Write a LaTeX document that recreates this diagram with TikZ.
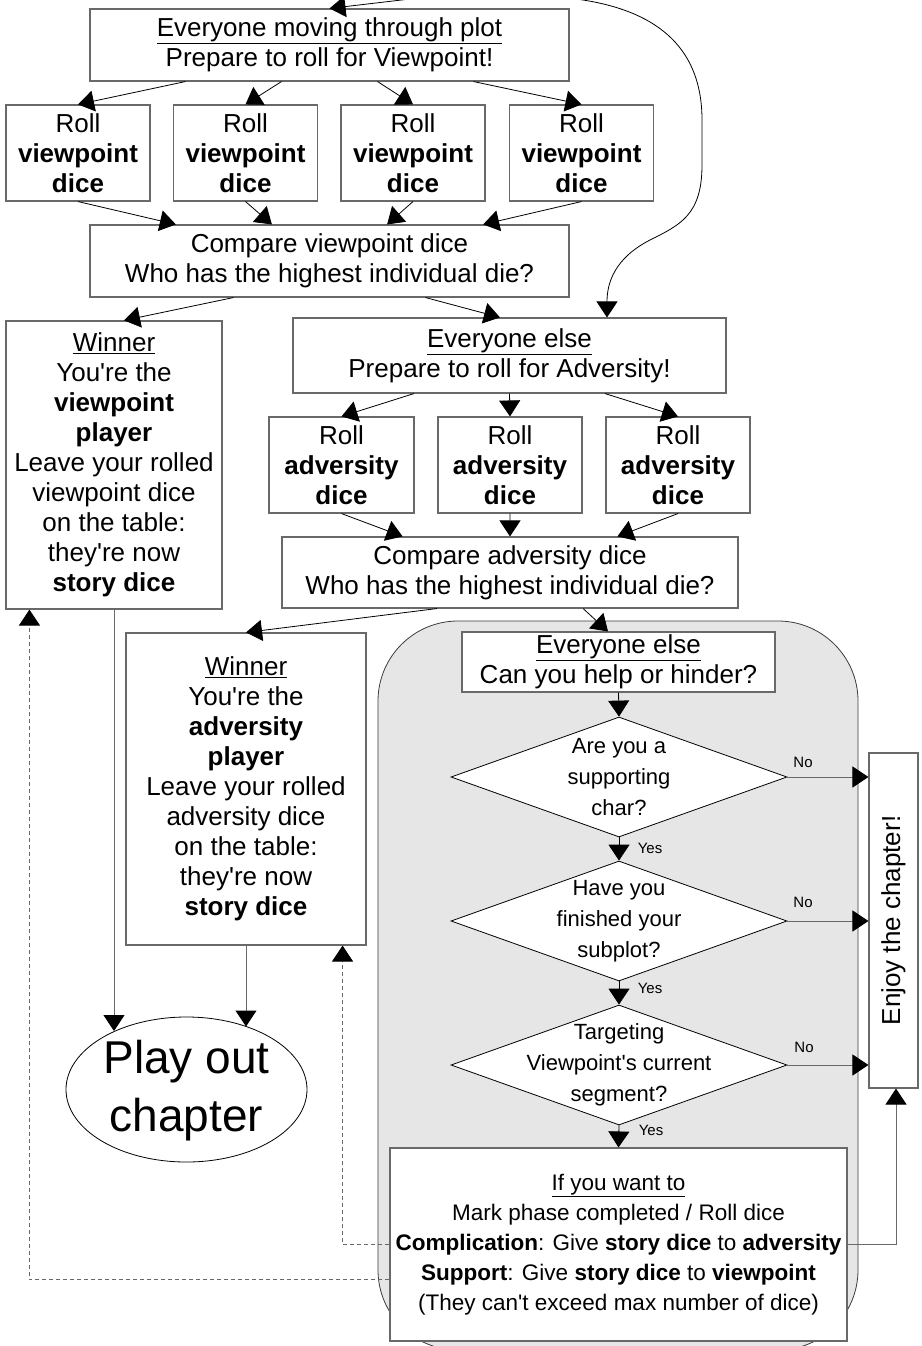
\documentclass[tikz,border=0pt]{standalone}
\usepackage{fontspec}
\setmainfont{Liberation Sans}[Ligatures=TeXOff]
\usetikzlibrary{arrows.meta,shapes.geometric,calc}
\definecolor{boxgray}{RGB}{105,105,105}
\definecolor{panel}{RGB}{230,230,230}
\definecolor{panelline}{RGB}{60,60,60}
\begin{document}
\begin{tikzpicture}[x=1pt,y=-1pt,
  box/.style={draw=boxgray, line width=1.1pt, fill=white, inner sep=0pt, align=center, font=\fontsize{26}{30}\selectfont},
  dia/.style={draw=black, line width=0.8pt, fill=white, diamond, inner sep=0pt, minimum width=336pt, minimum height=120pt},
  diatext/.style={align=center, inner sep=0pt, font=\fontsize{22}{31}\selectfont},
  lbl/.style={inner sep=0pt, font=\fontsize{15}{18}\selectfont},
  tip/.tip={Triangle[length=16pt,width=21pt,color=black]},
  conn/.style={-tip, line width=0.8pt, black},
  gconn/.style={-tip, line width=1pt, draw=boxgray},
  dconn/.style={-tip, line width=0.8pt, draw=boxgray, dash pattern=on 4pt off 3pt}
]
\useasboundingbox (0,0) rectangle (921,1346);
\clip (0,0) rectangle (921,1346);

% grey panel
\draw[fill=panel, draw=panelline, line width=0.8pt, rounded corners=80pt] (378,621) rectangle (858,1350);

% top section
\node[box, minimum width=479pt, minimum height=72pt] (top) at (329.5,45) {\underline{Everyone moving through plot}\\Prepare to roll for Viewpoint!};
\node[box, minimum width=144pt, minimum height=96pt] (rv1) at (78,153) {Roll\\\textbf{viewpoint}\\\textbf{dice}};
\node[box, minimum width=144pt, minimum height=96pt] (rv2) at (245.5,153) {Roll\\\textbf{viewpoint}\\\textbf{dice}};
\node[box, minimum width=144pt, minimum height=96pt] (rv3) at (413,153) {Roll\\\textbf{viewpoint}\\\textbf{dice}};
\node[box, minimum width=144pt, minimum height=96pt] (rv4) at (581.5,153) {Roll\\\textbf{viewpoint}\\\textbf{dice}};
\node[box, minimum width=479pt, minimum height=72pt] (cmpV) at (329.5,261) {Compare viewpoint dice\\Who has the highest individual die?};

\node[box, minimum width=216pt, minimum height=288pt] (win1) at (114,465) {\underline{Winner}\\You're the\\\textbf{viewpoint}\\\textbf{player}\\Leave your rolled\\viewpoint dice\\on the table:\\they're now\\\textbf{story dice}};

\node[box, minimum width=433pt, minimum height=75pt] (eelse) at (509.5,355.5) {\underline{Everyone else}\\Prepare to roll for Adversity!};
\node[box, minimum width=145pt, minimum height=96pt] (ra1) at (341.5,465) {Roll\\\textbf{adversity}\\\textbf{dice}};
\node[box, minimum width=144pt, minimum height=96pt] (ra2) at (510,465) {Roll\\\textbf{adversity}\\\textbf{dice}};
\node[box, minimum width=144pt, minimum height=96pt] (ra3) at (678,465) {Roll\\\textbf{adversity}\\\textbf{dice}};
\node[box, minimum width=456pt, minimum height=71pt] (cmpA) at (510,572.5) {Compare adversity dice\\Who has the highest individual die?};

\node[box, minimum width=240pt, minimum height=312pt] (win2) at (246,789) {\underline{Winner}\\You're the\\\textbf{adversity}\\\textbf{player}\\Leave your rolled\\adversity dice\\on the table:\\they're now\\\textbf{story dice}};

% panel contents
\node[box, minimum width=313pt, minimum height=60pt] (inner) at (618.5,662) {\underline{Everyone else}\\Can you help or hinder?};
\node[dia] (d1) at (619,777) {};
\node[diatext] (d1t) at (d1.center) {Are you a\\supporting\\char?};
\node[dia] (d2) at (619,921) {};
\node[diatext] (d2t) at (d2.center) {Have you\\finished your\\subplot?};
\node[dia] (d3) at (619,1065) {};
\node[diatext] (d3t) at (d3.center) {Targeting\\Viewpoint's current\\segment?};
\node[box, minimum width=457pt, minimum height=193pt, font=\fontsize{22.5}{30}\selectfont] (bot) at (618.5,1244.5) {\underline{If you want to}\\Mark phase completed / Roll dice\\\textbf{Complication}: Give \textbf{story dice} to \textbf{adversity}\\\textbf{Support}: Give \textbf{story dice} to \textbf{viewpoint}\\(They can't exceed max number of dice)};

\node[box, minimum width=49pt, minimum height=335pt] (enjoy) at (893.5,920.5) {};
\node[inner sep=0pt, font=\fontsize{26}{30}\selectfont, rotate=90] (enjoyt) at (enjoy.center) {Enjoy the chapter!};

\node[draw=black, line width=0.8pt, ellipse, fill=white, minimum width=241pt, minimum height=145pt, inner sep=0pt] (play) at (186.5,1089.5) {};
\node[inner sep=0pt, align=center, font=\fontsize{46}{58}\selectfont] (playt) at (186.5,1091) {Play out\\chapter};

% labels
\node[lbl] (no1) at (803,762) {No};
\node[lbl] (no2) at (803,902) {No};
\node[lbl] (no3) at (804,1047) {No};
\node[lbl] (yes1) at (650,848) {Yes};
\node[lbl] (yes2) at (650,988) {Yes};
\node[lbl] (yes3) at (651,1130) {Yes};

% connectors, top part
\foreach \i/\f in {1/0.2,2/0.4,3/0.6,4/0.8}
  \draw[conn] ($(top.south west)!\f!(top.south east)$) -- (rv\i.north);
\foreach \i/\f in {1/0.18,2/0.38,3/0.62,4/0.82}
  \draw[conn] (rv\i.south) -- ($(cmpV.north west)!\f!(cmpV.north east)$);
\draw[conn] ($(cmpV.south west)!0.3!(cmpV.south east)$) -- ($(win1.north)+(10,0)$);
\draw[conn] ($(cmpV.south west)!0.7!(cmpV.south east)$) -- ($(eelse.north)+(-9.5,0)$);
\foreach \i/\f in {1/0.28,2/0.5,3/0.72}
  \draw[conn] ($(eelse.south west)!\f!(eelse.south east)$) -- (ra\i.north);
\foreach \i/\f in {1/0.265,2/0.5,3/0.735}
  \draw[conn] (ra\i.south) -- ($(cmpA.north west)!\f!(cmpA.north east)$);
\draw[conn] ($(cmpA.south west)!0.34!(cmpA.south east)$) -- (win2.north);
\draw[conn] ($(cmpA.south west)!0.66!(cmpA.south east)$) -- ($(inner.north)+(-10.5,0)$);

% loop curve at the top
\draw[tip-tip, line width=0.8pt]
  (top.north) -- (410,-1) .. controls (470,-10) and (530,-8) .. (583,0)
  .. controls (660,12) and (702,50) .. (702,120) -- (702,165)
  .. controls (702,215) and (680,225) .. (650,240)
  .. controls (615,258) and ($(eelse.north)+(97.5,-35)$) .. ($(eelse.north)+(97.5,0)$);

% panel flow
\draw[conn] (inner.south) -- (d1.north);
\draw[conn] (d1.south) -- (d2.north);
\draw[conn] (d2.south) -- (d3.north);
\draw[conn] (d3.south) -- (bot.north);
\draw[gconn] (d1.east) -- (d1.east -| enjoy.west);
\draw[gconn] (d2.east) -- (d2.east -| enjoy.west);
\draw[gconn] (d3.east) -- (d3.east -| enjoy.west);
\draw[gconn] (bot.east) -| ($(enjoy.south)+(2.5,0)$);

% feedback dashed
\draw[dconn] (bot.west) -| ($(win2.south east)+(-24,0)$);
\draw[dconn] ($(bot.west)+(0,35)$) -| ($(win1.south west)+(24,0)$);

% to play out chapter
\draw[gconn] (win1.south) -- (win1.south |- play.141.4);
\draw[gconn] (win2.south) -- (win2.south |- play.46.6);
\end{tikzpicture}
\end{document}
